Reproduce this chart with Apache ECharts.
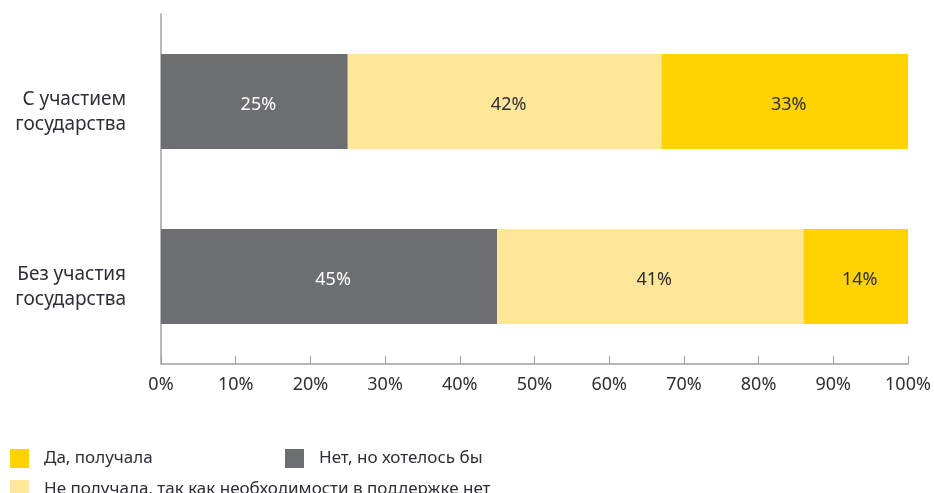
<!DOCTYPE html>
<html><head><meta charset="utf-8">
<script src="https://cdn.jsdelivr.net/npm/echarts@6/dist/echarts.min.js"></script>
<style>html,body{margin:0;padding:0;background:#fff}#c{width:934px;height:493px}</style>
</head><body><div id="c"></div>
<script>
const categories = ['С участием\nгосударства', 'Без участия\nгосударства'];
const seriesNames = ['Нет, но хотелось бы', 'Не получала, так как необходимости в поддержке нет', 'Да, получала'];
const noButWould = [25, 45];
const notNeeded = [42, 41];
const yesReceived = [33, 14];
const xTicks = [0, 100, 10];
const colors = ['#6d6e71', '#ffe699', '#ffd200'];
const labelColors = ['#ffffff', '#2e2e38', '#2e2e38'];
const font = 'Noto Sans';
const values = [noButWould, notNeeded, yesReceived];
const chart = echarts.init(document.getElementById('c'));
const legendBase = {
  orient: 'horizontal', icon: 'rect', itemWidth: 19, itemHeight: 19,
  textStyle: {fontFamily: font, fontSize: 17, color: '#2e2e38', padding: [0,0,0,10]},
  selectedMode: false
};
chart.setOption({
  animation: false,
  grid: {left: 161, right: 26, top: 14, bottom: 129},
  xAxis: {
    type: 'value', min: xTicks[0], max: xTicks[1], interval: xTicks[2],
    axisLine: {show: true, lineStyle: {color: '#a0a0a0', width: 1.5}},
    axisTick: {show: true, inside: true, length: 8, lineStyle: {color: '#a0a0a0'}},
    splitLine: {show: false},
    axisLabel: {formatter: '{value}%', fontFamily: font, fontSize: 18, color: '#2e2e38', margin: 12}
  },
  yAxis: {
    type: 'category', data: categories, inverse: true,
    axisLine: {show: true, lineStyle: {color: '#a0a0a0', width: 1.5}},
    axisTick: {show: false},
    axisLabel: {
      fontFamily: font, fontSize: 19, color: '#2e2e38', margin: 35, lineHeight: 25, align: 'right',
      formatter: v => '{s|}\n' + v.split('\n').map(l => '{t|' + l + '}').join('\n'),
      rich: {
        s: {lineHeight: 22, fontSize: 19},
        t: {lineHeight: 25, fontSize: 19, fontFamily: font, color: '#2e2e38', align: 'right'}
      }
    }
  },
  legend: [
    Object.assign({}, legendBase, {data: [seriesNames[2]], left: 5, top: 444}),
    Object.assign({}, legendBase, {data: [seriesNames[0]], left: 280, top: 444}),
    Object.assign({}, legendBase, {data: [seriesNames[1]], left: 5, top: 475})
  ],
  series: seriesNames.map((n, i) => ({
    name: n, type: 'bar', stack: 'total', data: values[i], barWidth: 95,
    itemStyle: {color: colors[i]},
    label: {show: true, position: 'inside', offset: [4, 3], formatter: '{c}%', fontFamily: font, fontSize: 18, color: labelColors[i]}
  }))
});
</script></body></html>
